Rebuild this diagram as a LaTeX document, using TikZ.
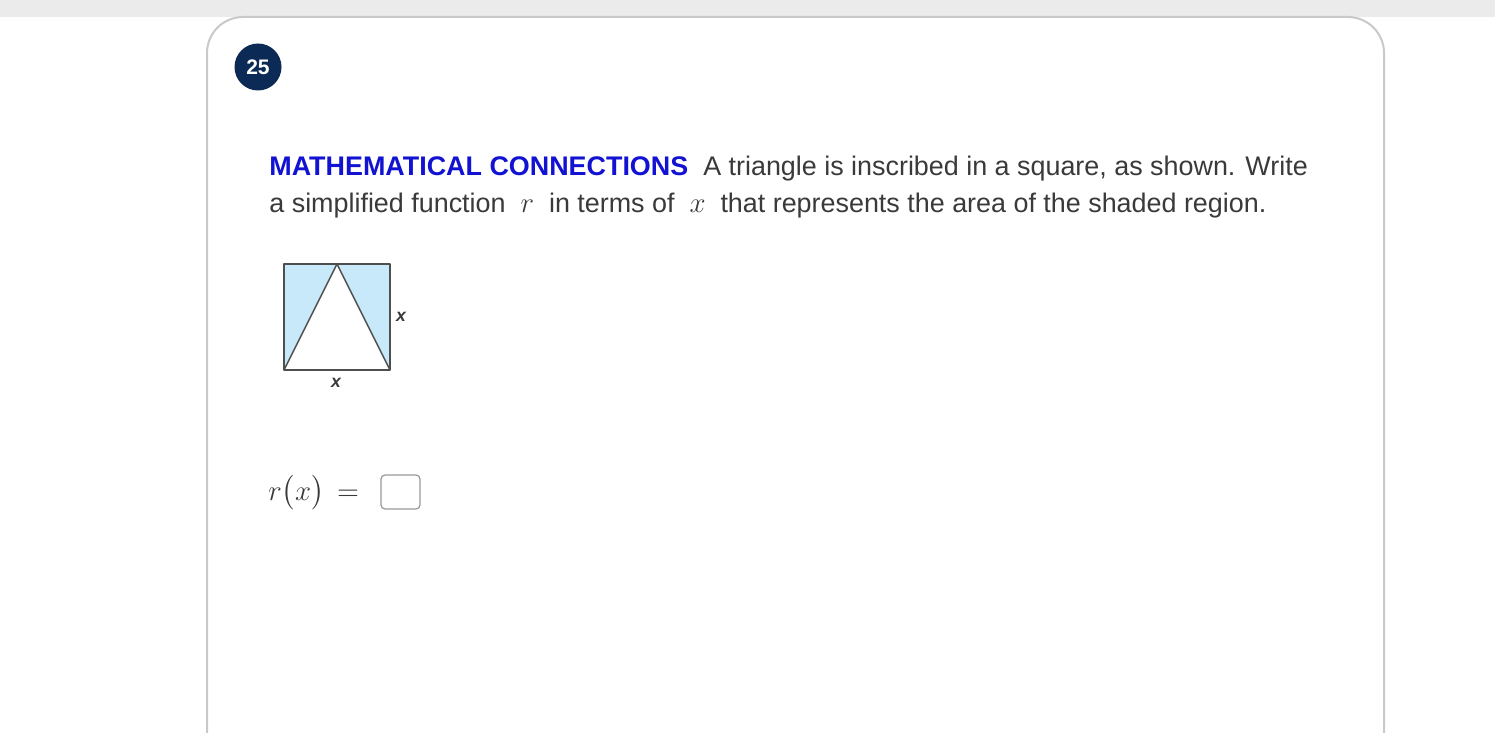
\documentclass[tikz,border=0pt]{standalone}
\usepackage{fontspec}
\setmainfont{Liberation Sans}
\usepackage{amsmath}
\usetikzlibrary{positioning}
\definecolor{bandgray}{HTML}{EBEBEB}
\definecolor{cardline}{HTML}{C9C9C9}
\definecolor{navy}{HTML}{0B2A55}
\definecolor{headblue}{HTML}{1212D2}
\definecolor{textgray}{HTML}{3A3A3A}
\definecolor{shadeblue}{HTML}{C8E9FA}
\newcommand{\mvar}[1]{{\fontsize{15}{15}\selectfont$#1$}}
\tikzset{
  prose/.style={anchor=base west, inner sep=0pt, text=textgray, font=\fontsize{13.45}{16}\selectfont},
  sidelabel/.style={inner sep=0pt, text=textgray, font=\fontsize{8.8}{10}\selectfont\bfseries\itshape},
  answerbox/.style={draw=gray!80, rounded corners=2pt, line width=0.6pt, minimum width=19.5pt, minimum height=17pt, inner sep=0pt}
}
\begin{document}
\begin{tikzpicture}[x=0.5pt, y=-0.5pt]
\useasboundingbox (0,0) rectangle (1495,733);
\clip (0,0) rectangle (1495,733);
% page background and card
\fill[bandgray] (0,0) rectangle (1495,17);
\draw[cardline, line width=1pt, rounded corners=18, fill=white] (207,760) -- (207,17) -- (1384,17) -- (1384,760);
% question number
\fill[navy] (258,67) circle (23.5);
\node[text=white, font=\fontsize{10.5}{12}\selectfont\bfseries] (num) at (258,67) {25};
% question text
\node[prose] (line1) at (269,176) {\textcolor{headblue}{\textbf{MATHEMATICAL CONNECTIONS}}\ \ A triangle is inscribed in a square, as shown. Write};
\node[prose] (line2) at (269,213) {a simplified function\ \ \mvar{r}\ \ in terms of\ \ \mvar{x}\ \ that represents the area of the shaded region.};
% square with inscribed triangle
\coordinate (bl) at (284,370);
\coordinate (br) at (390,370);
\coordinate (tr) at (390,264);
\coordinate (tl) at (284,264);
\coordinate (apex) at (337,264);
\fill[shadeblue] (bl) -- (tl) -- (tr) -- (br) -- (apex) -- cycle;
\draw[textgray!90, line width=0.7pt, line join=round] (bl) -- (tl) -- (tr) -- (br) -- cycle;
\draw[textgray!90, line width=0.7pt, line join=round] (bl) -- (apex) -- (br);
\node[sidelabel] (xright) at (401,317) {x};
\node[sidelabel] (xbottom) at (336,383) {x};
% answer line
\node[anchor=base west, inner sep=0pt, text=textgray, font=\fontsize{15.5}{18}\selectfont] (rx) at (268,500) {$r\bigl(x\bigr)\,=$};
\node[answerbox] (ans) at (400.5,492) {};
\end{tikzpicture}
\end{document}
